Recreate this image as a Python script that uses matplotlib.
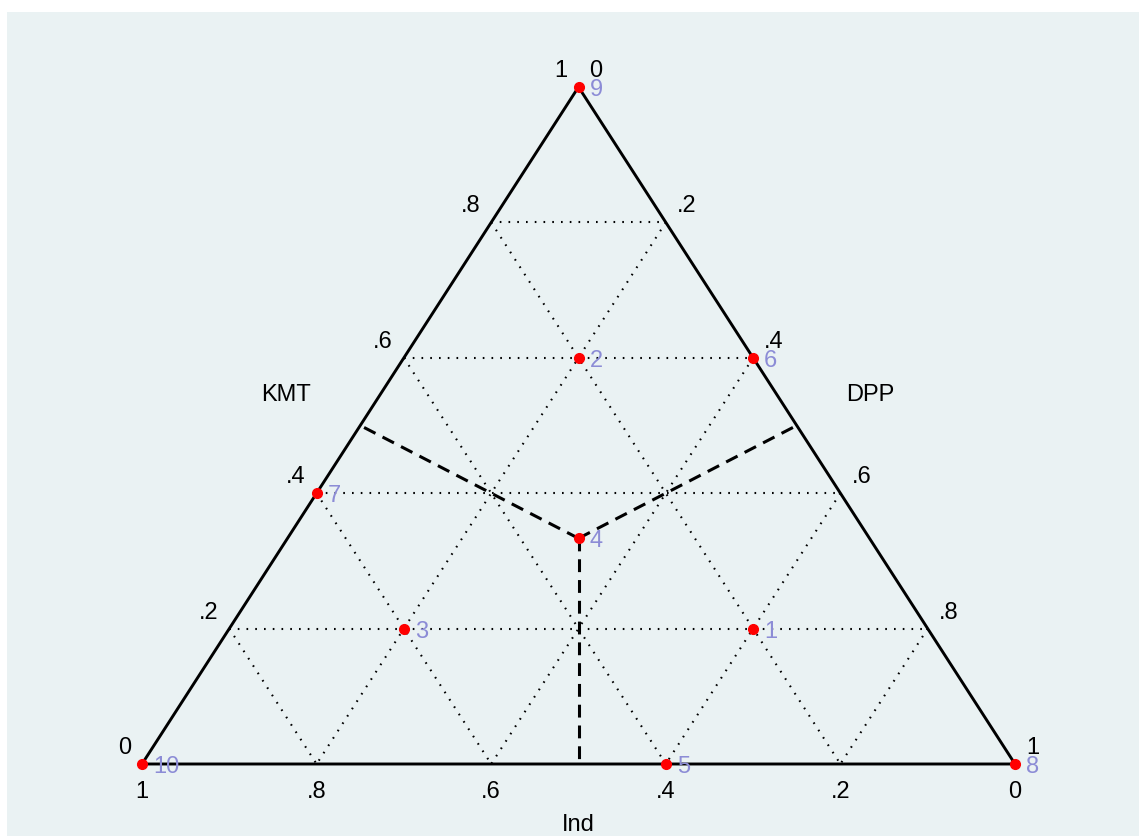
import matplotlib
matplotlib.use("Agg")
import matplotlib.pyplot as plt
from matplotlib.patches import Rectangle

# ---- data (shares: KMT, DPP, Ind) ----
point_ids = ["1", "2", "3", "4", "5", "6", "7", "8", "9", "10"]
kmt = [0.2, 0.6, 0.2, 1/3, 0.0, 0.6, 0.4, 0.0, 1.0, 0.0]
dpp = [0.6, 0.2, 0.2, 1/3, 0.6, 0.4, 0.0, 1.0, 0.0, 0.0]
ind = [0.2, 0.2, 0.6, 1/3, 0.4, 0.0, 0.6, 0.0, 0.0, 1.0]

grid_vals = [0.2, 0.4, 0.6, 0.8]
tick_vals = [0, 0.2, 0.4, 0.6, 0.8, 1]
tick_labels = ["0", ".2", ".4", ".6", ".8", "1"]

# plurality boundaries: centroid -> edge midpoints (KMT, DPP, Ind)
centroid = (1/3, 1/3, 1/3)
midpoints = [(0.5, 0.0, 0.5), (0.5, 0.5, 0.0), (0.0, 0.5, 0.5)]

axis_titles = {"KMT": "KMT", "DPP": "DPP", "Ind": "Ind"}


def to_xy(k, d, i):
    return d + k / 2.0, k


W, H = 1139, 837
fig = plt.figure(figsize=(W / 100, H / 100), dpi=100, facecolor="white")
fig.patches.append(Rectangle((7 / W, 0), 1 - 7 / W, (H - 13) / H,
                             transform=fig.transFigure, facecolor="#EAF2F3",
                             edgecolor="none", zorder=-10))
ax = fig.add_axes([0, 0, 1, 1])
ax.set_zorder(5)
ax.set_facecolor("none")
ax.axis("off")
x0, sx = 142, 873
y0, sy = H - 765, 677
ax.set_xlim(-x0 / sx, (W - x0) / sx)
ax.set_ylim(-y0 / sy, (H - y0) / sy)

FONT = "Liberation Sans"
fs = 17
dot = dict(color="black", lw=1.5, linestyle=(0, (0.8, 3.4)), zorder=2)

# grid lines
for v in grid_vals:
    # constant KMT
    a = to_xy(v, 0, 1 - v); b = to_xy(v, 1 - v, 0)
    ax.plot([a[0], b[0]], [a[1], b[1]], **dot)
    # constant DPP
    a = to_xy(1 - v, v, 0); b = to_xy(0, v, 1 - v)
    ax.plot([a[0], b[0]], [a[1], b[1]], **dot)
    # constant Ind
    a = to_xy(1 - v, 0, v); b = to_xy(0, 1 - v, v)
    ax.plot([a[0], b[0]], [a[1], b[1]], **dot)

# boundaries
cx, cy = to_xy(*centroid)
for m in midpoints:
    mx, my = to_xy(*m)
    ax.plot([cx, mx], [cy, my], color="black", lw=2.2,
            linestyle=(0, (4.2, 2.6)), zorder=3)

# triangle
tri = [to_xy(1, 0, 0), to_xy(0, 1, 0), to_xy(0, 0, 1), to_xy(1, 0, 0)]
ax.plot([p[0] for p in tri], [p[1] for p in tri], color="black", lw=2.1,
        zorder=4, solid_joinstyle="miter")

# ticks labels
for v, lab in zip(tick_vals, tick_labels):
    # KMT on left edge
    px, py = to_xy(v, 0, 1 - v)
    ax.annotate(lab, (px, py), xytext=(-11, 6), textcoords="offset pixels",
                ha="right", va="bottom", fontsize=fs, family=FONT)
    # DPP on right edge
    px, py = to_xy(1 - v, v, 0)
    ax.annotate(lab, (px, py), xytext=(11, 6), textcoords="offset pixels",
                ha="left", va="bottom", fontsize=fs, family=FONT)
    # Ind on bottom
    px, py = to_xy(0, 1 - v, v)
    ax.annotate(lab, (px, py), xytext=(0, -27), textcoords="offset pixels",
                ha="center", va="center", fontsize=fs, family=FONT)

# axis titles
ax.annotate(axis_titles["KMT"], (286, H - 395), xycoords="figure pixels",
            ha="center", va="center", fontsize=fs, family=FONT)
ax.annotate(axis_titles["DPP"], (870, H - 395), xycoords="figure pixels",
            ha="center", va="center", fontsize=fs, family=FONT)
ax.annotate(axis_titles["Ind"], (578, H - 825), xycoords="figure pixels",
            ha="center", va="center", fontsize=fs, family=FONT)

# points
xs = [to_xy(k, d, i)[0] for k, d, i in zip(kmt, dpp, ind)]
ys = [to_xy(k, d, i)[1] for k, d, i in zip(kmt, dpp, ind)]
ax.plot(xs, ys, "o", color="red", ms=7, mec="red", zorder=6, clip_on=False)
for x, y, lab in zip(xs, ys, point_ids):
    ax.annotate(lab, (x, y), xytext=(11, -2), textcoords="offset pixels",
                ha="left", va="center", fontsize=fs, family=FONT,
                color="#8C8CD6", zorder=7)

fig.savefig("out.png", dpi=100, facecolor="white")
